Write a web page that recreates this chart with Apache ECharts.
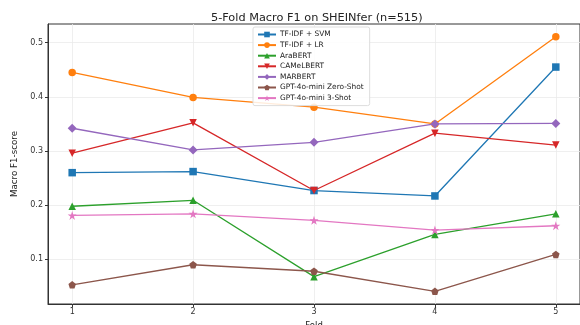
<!DOCTYPE html>
<html><head><meta charset="utf-8">
<script src="https://cdn.jsdelivr.net/npm/echarts@6/dist/echarts.min.js"></script>
<style>html,body{margin:0;padding:0;background:#fff}#c{width:580px;height:325px}</style>
</head><body><div id="c"></div>
<script>
const folds = [1, 2, 3, 4, 5];
const yTicks = [0.1, 0.2, 0.3, 0.4, 0.5];
const tfidfSvm = [0.260, 0.262, 0.227, 0.217, 0.455];
const tfidfLr = [0.445, 0.399, 0.381, 0.350, 0.511];
const araBert = [0.198, 0.209, 0.068, 0.146, 0.184];
const camelBert = [0.296, 0.352, 0.227, 0.333, 0.311];
const marBert = [0.342, 0.302, 0.316, 0.350, 0.351];
const gptZero = [0.053, 0.090, 0.078, 0.041, 0.109];
const gptThree = [0.181, 0.184, 0.172, 0.154, 0.162];
const seriesNames = ['TF-IDF + SVM','TF-IDF + LR','AraBERT','CAMeLBERT','MARBERT','GPT-4o-mini Zero-Shot','GPT-4o-mini 3-Shot'];
const seriesData = [tfidfSvm, tfidfLr, araBert, camelBert, marBert, gptZero, gptThree];
const colors = ['#1f77b4','#ff7f0e','#2ca02c','#d62728','#9467bd','#8c564b','#e377c2'];
const pentagon = 'path://M0,-1 L0.951,-0.309 L0.588,0.809 L-0.588,0.809 L-0.951,-0.309 Z';
const star = 'path://M0,-1 L0.2245,-0.309 L0.951,-0.309 L0.363,0.118 L0.588,0.809 L0,0.382 L-0.588,0.809 L-0.363,0.118 L-0.951,-0.309 L-0.2245,-0.309 Z';
const triDown = 'path://M-1,-0.8 L1,-0.8 L0,0.9 Z';
const symbols = ['rect','circle','triangle',triDown,'diamond',pentagon,star];
const sizes = [7.5,7.5,7.5,7.5,9,7.5,9];

const allVals = [].concat(...seriesData);
const dMin = Math.min(...allVals), dMax = Math.max(...allVals);
const pad = (dMax - dMin) * 0.05;

const chart = echarts.init(document.getElementById('c'), null, {renderer:'canvas'});
const font = 'DejaVu Sans';
chart.setOption({
  animation: false,
  color: colors,
  title: {text: '5-Fold Macro F1 on SHEINfer (n=515)', left: 206, top: 8,
    textStyle: {fontFamily: font, fontSize: 11.3, fontWeight: 'normal', color: '#222'}},
  grid: {left: 48, right: 0, top: 24, bottom: 21, show: true, borderColor: '#333', borderWidth: 1,
    outerBoundsMode: 'none', containLabel: false},
  legend: {
    orient: 'vertical', left: 253, top: 27, itemWidth: 18, itemHeight: 7, itemGap: 3.6,
    padding: [4, 6, 4, 4], backgroundColor: 'rgba(255,255,255,0.85)', borderColor: '#ddd', borderWidth: 1, borderRadius: 2,
    textStyle: {fontFamily: font, fontSize: 7.4, color: '#222', padding: [0,0,0,-1]},
    data: seriesNames
  },
  xAxis: {
    type: 'value', min: 0.8, max: 5.2,
    name: 'Fold', nameLocation: 'middle', nameGap: 17,
    nameTextStyle: {fontFamily: font, fontSize: 8.5, color: '#222'},
    axisLine: {show: true, lineStyle: {color: '#333'}},
    axisTick: {show: true, length: 3, customValues: folds, lineStyle: {color: '#333'}},
    axisLabel: {customValues: folds, fontFamily: font, fontSize: 8, color: '#333', margin: 4},
    splitLine: {show: true, lineStyle: {color: '#ebebeb', width: 0.8}}
  },
  yAxis: {
    type: 'value', min: dMin - pad, max: dMax + pad,
    name: 'Macro F1-score', nameLocation: 'middle', nameGap: 27,
    nameTextStyle: {fontFamily: font, fontSize: 8.7, color: '#222'},
    axisLine: {show: true, lineStyle: {color: '#333'}},
    axisTick: {show: true, length: 3, customValues: yTicks, lineStyle: {color: '#333'}},
    axisLabel: {customValues: yTicks, fontFamily: font, fontSize: 8, color: '#333', margin: 5,
      formatter: v => v.toFixed(1)},
    splitLine: {show: true, lineStyle: {color: '#ebebeb', width: 0.8}}
  },
  series: seriesNames.map((n, i) => ({
    name: n, type: 'line',
    data: folds.map((f, j) => [f, seriesData[i][j]]),
    symbol: symbols[i], symbolSize: sizes[i], showAllSymbol: true,
    lineStyle: {width: 1.3, color: colors[i]},
    itemStyle: {color: colors[i]},
    z: 2 + i
  }))
});
</script></body></html>
